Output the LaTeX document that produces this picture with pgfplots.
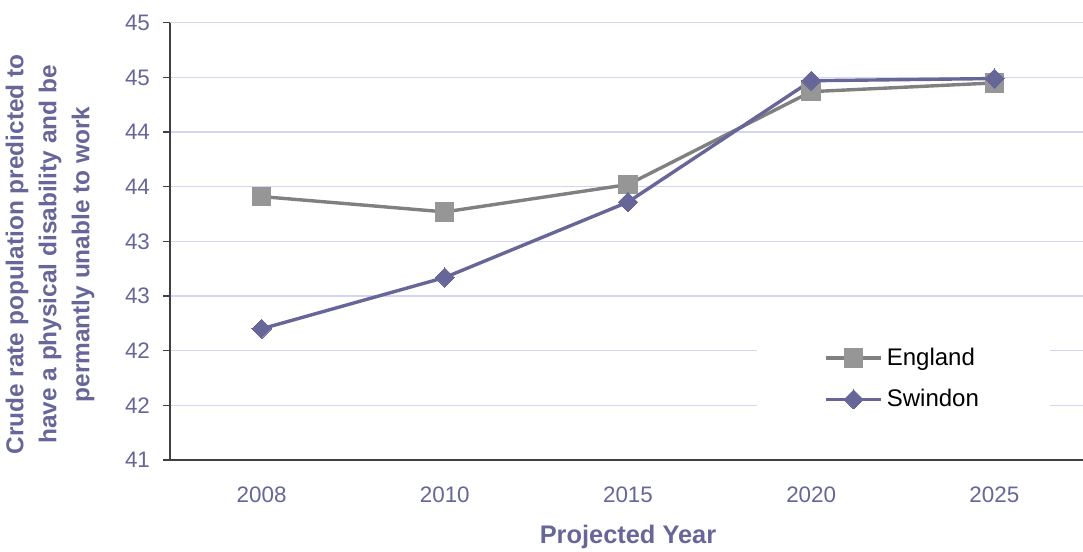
\documentclass[border=0pt]{standalone}
\usepackage{pgfplots}
\pgfplotsset{compat=1.18}
\usepackage{fontspec}
\setmainfont{Liberation Sans}
\definecolor{txtblue}{HTML}{666699}
\definecolor{swindon}{HTML}{666699}
\definecolor{englandline}{HTML}{808080}
\definecolor{englandmark}{HTML}{969696}
\definecolor{gridlav}{HTML}{D4D4F4}
\definecolor{axisgray}{HTML}{404040}
\begin{document}
\begin{tikzpicture}
\useasboundingbox (0,0) rectangle (541.5pt,276pt);
\begin{axis}[
  at={(85pt,46pt)}, anchor=south west,
  scale only axis,
  width=458pt, height=218.6pt,
  xmin=-0.5, xmax=4.5,
  ymin=41, ymax=45,
  axis x line*=bottom, axis y line*=left,
  axis line style={axisgray, line width=0.6pt},
  xtick={0,1,2,3,4},
  xticklabels={2008,2010,2015,2020,2025},
  major x tick style={draw=none},
  extra x ticks={-0.5,0.5,1.5,2.5,3.5},
  extra x tick labels={},
  extra x tick style={major tick length=3.5pt, tick align=outside,
    tick style={axisgray, line width=0.6pt}, grid=none},
  ytick={41,41.5,...,45},
  yticklabels={41,42,42,43,43,44,44,45,45},
  ymajorgrids,
  grid style={gridlav, line width=0.6pt},
  tick align=outside,
  major tick length=3.5pt,
  tick style={axisgray, line width=0.6pt},
  ticklabel style={font=\fontsize{11.2}{13}\selectfont, text=txtblue},
  xticklabel style={yshift=-6.5pt},
  yticklabel style={xshift=-3pt},
  xlabel={\textbf{Projected Year}},
  xlabel style={font=\fontsize{12.7}{15}\selectfont, text=txtblue,
    at={(axis description cs:0.5,0)}, anchor=center, yshift=-38.5pt},
  ylabel={\textbf{Crude rate population predicted to}\\
          \textbf{have a physical disability and be}\\
          \textbf{permantly unable to work}},
  ylabel style={font=\fontsize{12.2}{16.5}\selectfont, text=txtblue, align=center,
    at={(axis description cs:-0.131,0.47)}, anchor=center, rotate=0},
  legend style={at={(axis description cs:0.801,0.186)}, anchor=center,
    draw=none, fill=white, inner xsep=33.5pt, inner ysep=12pt,
    font=\fontsize{12}{14}\selectfont, text=black, row sep=6.5pt,
    cells={anchor=west}},
  legend image code/.code={%
    \draw[mark repeat=2,mark phase=2,#1]
      plot coordinates {(0pt,0pt) (13.75pt,0pt) (27.5pt,0pt)};},
  clip=false,
]
% England: grey line, square markers
\addplot[englandline, line width=1.7pt, mark=square*, mark size=4.6pt,
  mark options={solid, fill=englandmark, draw=englandmark, line width=0pt}]
  coordinates {(0,43.41) (1,43.27) (2,43.52) (3,44.37) (4,44.45)};
\addlegendentry{England}
% Swindon: purple line, diamond markers
\addplot[swindon, line width=1.7pt, mark=square*, mark size=3.4pt,
  mark options={solid, rotate=45, fill=swindon, draw=swindon, line width=0pt}]
  coordinates {(0,42.20) (1,42.67) (2,43.36) (3,44.47) (4,44.49)};
\addlegendentry{Swindon}
\end{axis}
\end{tikzpicture}
\end{document}
